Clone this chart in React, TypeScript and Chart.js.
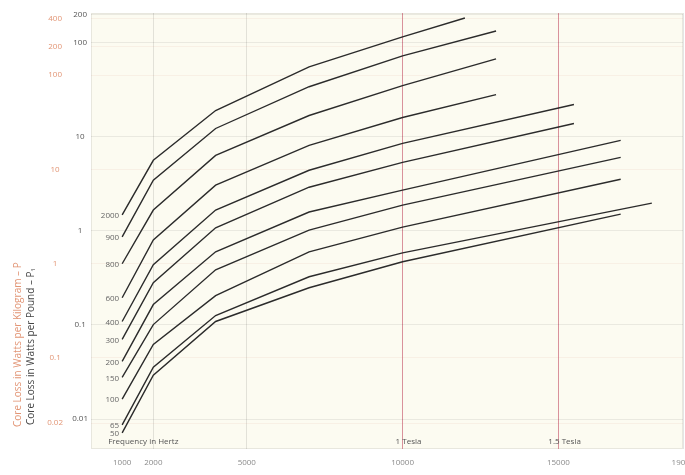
import React, { useEffect, useRef } from "react";
import { Chart, registerables } from "chart.js";
Chart.register(...registerables);

// Curve labels (as printed next to each curve start)
const CURVE_LABELS = ["2000", "900", "800", "600", "400", "300", "200", "150", "100", "65", "50"];

// Frequencies (Hz) of each curve's vertices
const F_12K = [1000, 2000, 4000, 7000, 10000, 12000];
const F_13K = [1000, 2000, 4000, 7000, 10000, 13000];
const F_155K = [1000, 2000, 4000, 7000, 10000, 15500];
const F_17K = [1000, 2000, 4000, 7000, 10000, 17000];
const F_18K = [1000, 2000, 4000, 7000, 10000, 18000];

// Core loss, watts per pound
const C1 = [1.48, 5.64, 19.1, 55.7, 116, 184];
const C2 = [0.865, 3.46, 12.3, 34.2, 72.8, 134];
const C3 = [0.448, 1.67, 6.37, 16.9, 35.1, 67.7];
const C4 = [0.195, 0.803, 3.07, 8.13, 16.1, 28.2];
const C5 = [0.109, 0.437, 1.67, 4.42, 8.54, 22.1];
const C6 = [0.0703, 0.282, 1.08, 2.92, 5.37, 13.9];
const C7 = [0.0411, 0.165, 0.6, 1.59, 2.72, 9.18];
const C8 = [0.0278, 0.101, 0.387, 1.02, 1.88, 6.07];
const C9 = [0.0163, 0.0622, 0.205, 0.6, 1.1, 3.55];
const C10 = [0.00865, 0.0355, 0.126, 0.326, 0.585, 1.98];
const C11 = [0.00711, 0.0292, 0.109, 0.249, 0.47, 1.51];

const SERIES_FREQS = [F_12K, F_13K, F_13K, F_13K, F_155K, F_155K, F_17K, F_17K, F_17K, F_18K, F_17K];
const SERIES_VALUES = [C1, C2, C3, C4, C5, C6, C7, C8, C9, C10, C11];

const X_TICKS = [1000, 2000, 5000, 10000, 15000, 19000];
const LB_TICKS = [200, 100, 10, 1, 0.1, 0.01];
const KG_TICKS = [400, 200, 100, 10, 1, 0.1, 0.02];
const LB_MIN = 0.0048;
const LB_MAX = 208;
const LB_TO_KG = 2.2046;

const ORANGE = "#e29575";
const DARK = "#555555";
const FONT = "'Open Sans', 'DejaVu Sans', sans-serif";

export default function App() {
  const ref = useRef<HTMLCanvasElement>(null);

  useEffect(() => {
    const bgPlugin = {
      id: "bg",
      beforeDraw(chart: any) {
        const { ctx, chartArea: a } = chart;
        ctx.save();
        ctx.fillStyle = "#fcfbf1";
        ctx.fillRect(a.left, a.top, a.right - a.left, a.bottom - a.top);
        ctx.strokeStyle = "rgba(0,0,0,0.08)";
        ctx.strokeRect(a.left + 0.5, a.top + 0.5, a.right - a.left - 1, a.bottom - a.top - 1);
        ctx.restore();
      },
    };
    const textPlugin = {
      id: "texts",
      afterDatasetsDraw(chart: any) {
        const { ctx, chartArea: a } = chart;
        const xs = chart.scales.x;
        ctx.save();
        ctx.font = `8px ${FONT}`;
        ctx.fillStyle = "#666";
        ctx.textAlign = "right";
        ctx.textBaseline = "middle";
        chart.data.datasets.forEach((ds: any, i: number) => {
          const p = chart.getDatasetMeta(i).data[0];
          if (p) ctx.fillText(ds.label, p.x - 3, p.y + 1);
        });
        ctx.textAlign = "left";
        ctx.fillStyle = "#555";
        const yb = a.bottom - 7;
        ctx.fillText("Frequency in Hertz", xs.getPixelForValue(1000) - 14, yb);
        ctx.fillText("1 Tesla", xs.getPixelForValue(10000) - 7, yb);
        ctx.fillText("1.5 Tesla", xs.getPixelForValue(15000) - 10, yb);

        ctx.font = `10px ${FONT}`;
        ctx.save();
        ctx.translate(18, a.bottom - 22);
        ctx.rotate(-Math.PI / 2);
        ctx.fillStyle = ORANGE;
        ctx.fillText("Core Loss in Watts per Kilogram – P", 0, 0);
        ctx.restore();
        ctx.save();
        ctx.translate(31, a.bottom - 24);
        ctx.rotate(-Math.PI / 2);
        ctx.fillStyle = "#444";
        ctx.fillText("Core Loss in Watts per Pound – P₁", 0, 0);
        ctx.restore();
        ctx.restore();
      },
    };

    const datasets = SERIES_VALUES.map((vals, i) => ({
      label: CURVE_LABELS[i],
      data: vals.map((v, j) => ({ x: SERIES_FREQS[i][j], y: v })),
      borderColor: "#2b2b2b",
      borderWidth: 1.4,
      pointRadius: 0,
      tension: 0,
      fill: false,
      xAxisID: "x",
      yAxisID: "y",
    }));

    const chart = new Chart(ref.current!, {
      type: "line",
      data: { datasets },
      options: {
        responsive: false,
        animation: false,
        layout: { padding: { left: 40, right: 2, top: 13, bottom: 0 } },
        plugins: { legend: { display: false }, tooltip: { enabled: false } },
        scales: {
          x: {
            type: "linear",
            min: 0,
            max: 19000,
            afterBuildTicks: (s: any) => {
              s.ticks = X_TICKS.map((v) => ({ value: v }));
            },
            afterFit: (s: any) => {
              s.height = 26;
              s.paddingLeft = 0;
              s.paddingRight = 0;
            },
            ticks: {
              color: "#8a8a8a",
              font: { size: 8, family: FONT },
              padding: 9,
              maxRotation: 0,
              autoSkip: false,
              callback: (v: any) => String(v),
            },
            grid: {
              drawTicks: false,
              color: (c: any) =>
                c.tick && (c.tick.value === 10000 || c.tick.value === 15000)
                  ? "rgba(205,110,125,0.75)"
                  : c.tick && c.tick.value === 1000
                  ? "rgba(0,0,0,0)"
                  : "rgba(0,0,0,0.1)",
            },
            border: { display: false },
          },
          y: {
            type: "logarithmic",
            position: "left",
            weight: 0,
            min: LB_MIN,
            max: LB_MAX,
            afterBuildTicks: (s: any) => {
              s.ticks = LB_TICKS.map((v) => ({ value: v }));
            },
            afterFit: (s: any) => {
              s.width = 21;
              s.paddingTop = 0;
              s.paddingBottom = 0;
            },
            ticks: {
              color: DARK,
              font: { size: 8, family: FONT },
              crossAlign: "center",
              padding: 3,
              autoSkip: false,
              callback: (v: any) => String(v),
            },
            grid: { drawTicks: false, color: "rgba(0,0,0,0.07)" },
            border: { display: false },
          },
          y2: {
            type: "logarithmic",
            position: "left",
            weight: 1,
            min: LB_MIN * LB_TO_KG,
            max: LB_MAX * LB_TO_KG,
            afterBuildTicks: (s: any) => {
              s.ticks = KG_TICKS.map((v) => ({ value: v }));
            },
            afterFit: (s: any) => {
              s.width = 30;
              s.paddingTop = 0;
              s.paddingBottom = 0;
            },
            ticks: {
              color: ORANGE,
              font: { size: 8, family: FONT },
              crossAlign: "center",
              padding: 7,
              autoSkip: false,
              callback: (v: any) => String(v),
            },
            grid: { drawTicks: false, color: "rgba(200,120,90,0.08)" },
            border: { display: false },
          },
        },
      } as any,
      plugins: [bgPlugin, textPlugin],
    });
    return () => chart.destroy();
  }, []);

  return (
    <div style={{ position: "fixed", left: 0, top: 0, width: 685, height: 475 }}>
      <canvas ref={ref} width={685} height={475} style={{ display: "block" }} />
    </div>
  );
}
